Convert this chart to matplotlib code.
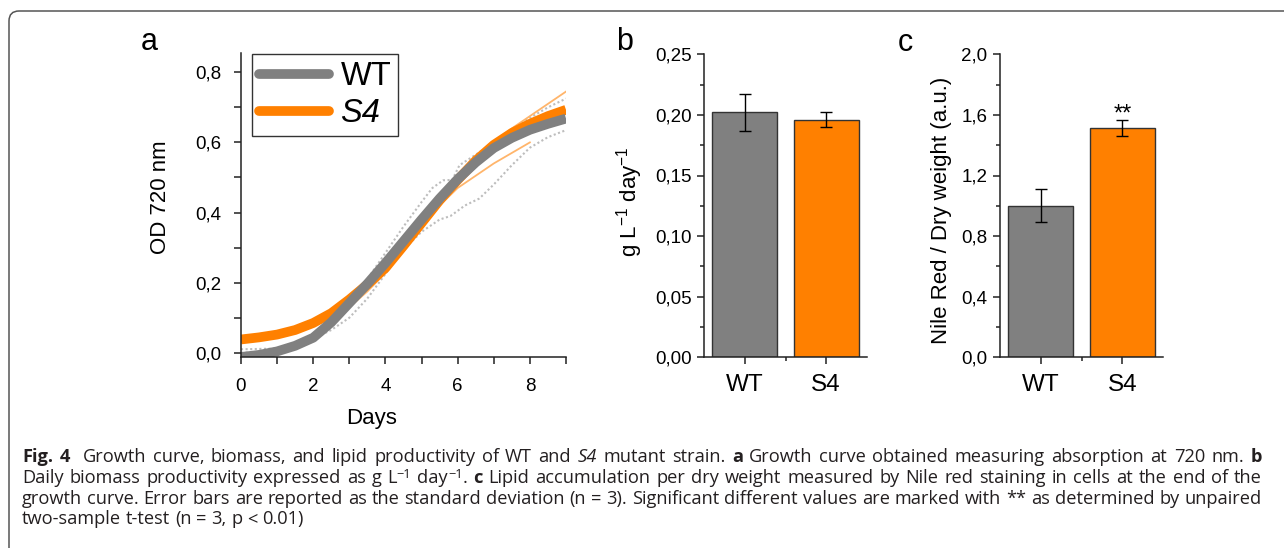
import matplotlib
matplotlib.use('Agg')
import matplotlib.pyplot as plt
from matplotlib import font_manager
from matplotlib.lines import Line2D
from matplotlib.patches import FancyBboxPatch
from matplotlib.transforms import IdentityTransform
from matplotlib.ticker import MultipleLocator, FuncFormatter

W, H = 1284, 548

# ---- panel a: growth curves (OD 720 nm) ----
days = [0, 0.5, 1, 1.5, 2, 2.5, 3, 3.5, 4, 4.5, 5, 5.5, 6, 6.5, 7, 7.5, 8, 8.5, 9]
wt_fit = [-0.012, -0.006, 0.004, 0.02, 0.043, 0.087, 0.142, 0.197, 0.256, 0.318, 0.38, 0.44,
          0.495, 0.543, 0.584, 0.613, 0.636, 0.653, 0.668]
s4_fit = [0.038, 0.044, 0.052, 0.065, 0.085, 0.113, 0.152, 0.195, 0.242, 0.305, 0.37, 0.435,
          0.493, 0.548, 0.593, 0.627, 0.653, 0.675, 0.693]

# raw replicate traces (thin, light)
wt_rep1_days = [0, 0.5, 1, 1.5, 2, 2.5, 3, 3.5, 4, 4.5, 5, 5.3, 5.6, 5.85, 6.05, 6.5, 7, 7.5, 8, 8.5, 9]
wt_rep1 = [0.0, 0.002, 0.008, 0.02, 0.045, 0.085, 0.14, 0.21, 0.285, 0.36, 0.43, 0.47, 0.492, 0.493,
           0.535, 0.565, 0.6, 0.635, 0.67, 0.7, 0.725]
wt_rep2_days = [0, 1, 1.5, 2, 2.5, 3, 3.5, 4, 4.5, 5, 5.5, 5.8, 6.2, 6.6, 7, 7.5, 8, 8.5, 9]
wt_rep2 = [0.01, 0.012, 0.02, 0.04, 0.065, 0.1, 0.155, 0.225, 0.295, 0.345, 0.38, 0.39, 0.42, 0.44,
           0.48, 0.535, 0.585, 0.615, 0.635]
s4_rep1_days = [0, 1, 2, 3, 4, 5, 6, 6.5, 7, 7.5, 8, 8.5, 9]
s4_rep1 = [0.046, 0.058, 0.09, 0.152, 0.25, 0.38, 0.5, 0.555, 0.6, 0.64, 0.675, 0.71, 0.745]
s4_rep2_days = [0, 1, 2, 3, 3.5, 4, 4.5, 5, 5.5, 6, 6.5, 7, 7.5, 8]
s4_rep2 = [0.03, 0.045, 0.075, 0.13, 0.175, 0.228, 0.29, 0.355, 0.42, 0.47, 0.505, 0.54, 0.57, 0.6]

# ---- panels b and c: bars ----
strains = ['WT', 'S4']
biomass = [0.202, 0.196]
biomass_sd = [0.015, 0.006]
nile_red = [1.0, 1.512]
nile_red_sd = [0.11, 0.053]

GRAY = '#808080'
ORANGE = '#ff8000'

plt.rcParams['font.family'] = ['Liberation Sans', 'DejaVu Sans']
plt.rcParams['mathtext.fontset'] = 'custom'
plt.rcParams['mathtext.rm'] = 'Liberation Sans'
plt.rcParams['mathtext.it'] = 'Liberation Sans:italic'
plt.rcParams['mathtext.bf'] = 'Liberation Sans:bold'
plt.rcParams['axes.linewidth'] = 1.1
plt.rcParams['axes.edgecolor'] = '#222222'

fig = plt.figure(figsize=(W / 100, H / 100), dpi=100)
fig.patch.set_facecolor('white')


def px_axes(l, t, r, b):
    return fig.add_axes([l / W, 1 - b / H, (r - l) / W, (b - t) / H])


def comma(fmt):
    return FuncFormatter(lambda v, p: (fmt % (abs(v) if abs(v) < 1e-9 else v)).replace('.', ','))


def style_axes(ax):
    for s in ['top', 'right']:
        ax.spines[s].set_visible(False)
    ax.tick_params(which='both', direction='out', width=1.1, colors='#222222', labelcolor='black')
    ax.tick_params(which='major', length=5)
    ax.tick_params(which='minor', length=3)


# panel a
ax_a = px_axes(241, 53, 566, 357)
style_axes(ax_a)
dots = (0, (1, 1.2))
ax_a.plot(wt_rep1_days, wt_rep1, color='#bdbdbd', lw=1.5, ls=dots)
ax_a.plot(wt_rep2_days, wt_rep2, color='#bdbdbd', lw=1.5, ls=dots)
ax_a.plot(s4_rep1_days, s4_rep1, color='#ffb56b', lw=1.3)
ax_a.plot(s4_rep2_days, s4_rep2, color='#ffb56b', lw=1.3)
ax_a.plot(days, s4_fit, color=ORANGE, lw=7, solid_capstyle='butt')
ax_a.plot(days, wt_fit, color=GRAY, lw=7, solid_capstyle='butt')
ax_a.set_xlim(0, 9)
ax_a.set_ylim(-0.012, 0.855)
ax_a.xaxis.set_major_locator(MultipleLocator(2))
ax_a.xaxis.set_minor_locator(MultipleLocator(1))
ax_a.yaxis.set_major_locator(MultipleLocator(0.2))
ax_a.yaxis.set_minor_locator(MultipleLocator(0.1))
ax_a.tick_params(which='both', length=5)
ax_a.tick_params(axis='x', labelsize=13.5, pad=10)
ax_a.tick_params(axis='y', labelsize=13.5, pad=9)
ax_a.xaxis.set_major_formatter(comma('%.0f'))
ax_a.yaxis.set_major_formatter(comma('%.1f'))

handles = [Line2D([], [], color=GRAY, lw=7, solid_capstyle='round'),
           Line2D([], [], color=ORANGE, lw=7, solid_capstyle='round')]
leg = ax_a.legend(handles, strains, loc='upper left', bbox_to_anchor=(0.034, 0.997),
                  borderaxespad=0, fontsize=23.5, frameon=True, fancybox=False,
                  edgecolor='#333333', framealpha=1, handlelength=2.15, handletextpad=0.34,
                  labelspacing=0.18, borderpad=0.22)
leg.get_frame().set_linewidth(1.0)
leg.get_texts()[1].set_fontstyle('italic')

# panel b
ax_b = px_axes(704.3, 54.3, 866.7, 357.3)
style_axes(ax_b)
ax_b.bar([0, 1], biomass, width=0.8, color=[GRAY, ORANGE], edgecolor='#333333', lw=1.0,
         yerr=biomass_sd, capsize=4, error_kw=dict(elinewidth=1.0, capthick=1.0, ecolor='black'))
ax_b.set_xlim(-0.5, 1.5)
ax_b.set_ylim(0, 0.25)
ax_b.set_xticks([0, 1], strains)
ax_b.set_xticks([0.5], minor=True)
ax_b.yaxis.set_major_locator(MultipleLocator(0.05))
ax_b.yaxis.set_minor_locator(MultipleLocator(0.025))
ax_b.yaxis.set_major_formatter(comma('%.2f'))
ax_b.tick_params(axis='x', labelsize=17.5, pad=7)
ax_b.tick_params(axis='y', labelsize=13.5, pad=4)

# panel c
ax_c = px_axes(1000, 54.3, 1163.3, 357.3)
style_axes(ax_c)
ax_c.bar([0, 1], nile_red, width=0.8, color=[GRAY, ORANGE], edgecolor='#333333', lw=1.0,
         yerr=nile_red_sd, capsize=4, error_kw=dict(elinewidth=1.0, capthick=1.0, ecolor='black'))
ax_c.set_xlim(-0.5, 1.5)
ax_c.set_ylim(0, 2.0)
ax_c.set_xticks([0, 1], strains)
ax_c.set_xticks([0.5], minor=True)
ax_c.yaxis.set_major_locator(MultipleLocator(0.4))
ax_c.yaxis.set_minor_locator(MultipleLocator(0.2))
ax_c.yaxis.set_major_formatter(comma('%.1f'))
ax_c.tick_params(axis='x', labelsize=17.5, pad=7)
ax_c.tick_params(axis='y', labelsize=13.5, pad=4)
ax_c.annotate('**', xy=(1, nile_red[1] + nile_red_sd[1]), xytext=(0, 0), textcoords='offset points',
              ha='center', va='baseline', fontsize=17)


def ftext(x, y, s, **kw):
    return fig.text(x / W, 1 - y / H, s, **kw)


# axis titles and panel letters
ftext(161, 197, 'OD 720 nm', rotation=90, ha='center', va='center', fontsize=16)
ftext(371.7, 424, 'Days', ha='center', va='baseline', fontsize=16)
ftext(630, 202, r'g L$^{-1}$ day$^{-1}$', rotation=90, ha='center', va='center', fontsize=16)
ftext(942, 210, 'Nile Red / Dry weight (a.u.)', rotation=90, ha='center', va='center', fontsize=16)
ftext(141, 50, 'a', ha='left', va='baseline', fontsize=22)
ftext(616, 50, 'b', ha='left', va='baseline', fontsize=22)
ftext(898, 51, 'c', ha='left', va='baseline', fontsize=22)

# frame around the figure (top and left edges visible)
fig.add_artist(FancyBboxPatch((9, -40), 1400, H - 11 + 40, boxstyle='round,pad=0,rounding_size=10',
                              transform=IdentityTransform(), fill=False, edgecolor='#555555', lw=1.1))

# ---- caption ----
names = {f.name for f in font_manager.fontManager.ttflist}
cap_font = 'Liberation Sans'
for cand in ['Open Sans', 'Noto Sans']:
    if cand in names:
        cap_font = cand
        break

renderer = fig.canvas.get_renderer()


def run_width(s, size, weight='normal', style='normal'):
    kw = dict(fontsize=size, fontweight=weight, fontstyle=style, family=[cap_font, 'DejaVu Sans'])
    t1 = fig.text(0, 0, '|' + s + '|', **kw)
    t2 = fig.text(0, 0, '||', **kw)
    w = t1.get_window_extent(renderer).width - t2.get_window_extent(renderer).width
    t1.remove()
    t2.remove()
    return w


cap_lines = [
    [('Fig. 4', 'bold', 'normal', 1, 0), ('  Growth curve, biomass, and lipid productivity of WT and ', 'normal', 'normal', 1, 0),
     ('S4', 'normal', 'italic', 1, 0), (' mutant strain. ', 'normal', 'normal', 1, 0), ('a', 'bold', 'normal', 1, 0),
     (' Growth curve obtained measuring absorption at 720 nm. ', 'normal', 'normal', 1, 0), ('b', 'bold', 'normal', 1, 0)],
    [('Daily biomass productivity expressed as g L', 'normal', 'normal', 1, 0), ('\u22121', 'normal', 'normal', 0.7, 5),
     (' day', 'normal', 'normal', 1, 0), ('\u22121', 'normal', 'normal', 0.7, 5), ('. ', 'normal', 'normal', 1, 0),
     ('c', 'bold', 'normal', 1, 0),
     (' Lipid accumulation per dry weight measured by Nile red staining in cells at the end of the', 'normal', 'normal', 1, 0)],
    [('growth curve. Error bars are reported as the standard deviation (n = 3). Significant different values are marked with ** as determined by unpaired',
      'normal', 'normal', 1, 0)],
    [('two-sample t-test (n = 3, p < 0.01)', 'normal', 'normal', 1, 0)],
]
cap_baselines = [462, 483, 504, 524]
cap_justify = [True, True, True, False]
CAP_LEFT, CAP_WIDTH = 22, 1240

# fit the longest line to the width of the original caption
base = 10.0
w0 = sum(run_width(s, base * k, wt, st) for s, wt, st, k, dy in cap_lines[2])
cap_size = min(base * (CAP_WIDTH - 2) / w0, 13.5)

for runs, yb, just in zip(cap_lines, cap_baselines, cap_justify):
    # split runs into words and spaces so the line can be justified
    pieces = []
    for s, wt, st, k, dy in runs:
        parts = s.split(' ')
        for i, p in enumerate(parts):
            if i > 0:
                pieces.append((' ', wt, st, k, dy))
            if p:
                pieces.append((p, wt, st, k, dy))
    widths = [run_width(p, cap_size * k, wt, st) for p, wt, st, k, dy in pieces]
    n_sp = sum(1 for p in pieces if p[0] == ' ')
    extra = (CAP_WIDTH - sum(widths)) / n_sp if (just and n_sp) else 0
    x = CAP_LEFT
    for (p, wt, st, k, dy), w in zip(pieces, widths):
        if p == ' ':
            x += w + extra
            continue
        ftext(x, yb - dy, p, fontsize=cap_size * k, fontweight=wt, fontstyle=st,
              family=[cap_font, 'DejaVu Sans'], color='#231f20', ha='left', va='baseline')
        x += w

fig.savefig('out.png', dpi=100)
